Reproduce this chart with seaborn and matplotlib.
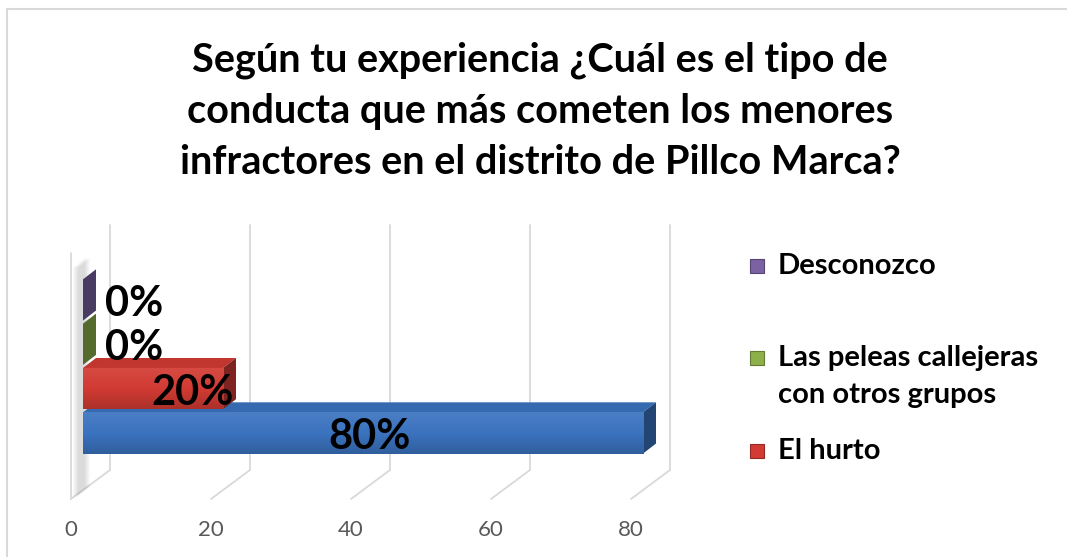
import numpy as np
import pandas as pd
import matplotlib
matplotlib.use("Agg")
import matplotlib.pyplot as plt
import matplotlib.colors as mcolors
import seaborn as sns
from matplotlib.patches import Polygon, Rectangle
from matplotlib.lines import Line2D
from matplotlib.transforms import IdentityTransform, ScaledTranslation

# Datos (de arriba hacia abajo, como en el grafico)
conductas = ["Desconozco", "Las peleas callejeras con otros grupos", "El hurto", "Otra conducta"]
porcentajes = [0, 0, 20, 80]
etiquetas = ["0%", "0%", "20%", "80%"]
colores = ["#7B62A3", "#8DB04B", "#D23B33", "#3B73BF"]
leyenda = ["Desconozco", "Las peleas callejeras\ncon otros grupos", "El hurto"]
titulo = [
    "Según tu experiencia ¿Cuál es el tipo de",
    "conducta que más cometen los menores",
    "infractores en el distrito de Pillco Marca?",
]
ticks_x = [0, 20, 40, 60, 80]

W, H, DPI = 1067, 557, 100
GRID = "#D9D9D9"

sns.set_style("white")
plt.rcParams["font.family"] = ["Lato", "DejaVu Sans"]


def shade(color, f):
    r, g, b = mcolors.to_rgb(color)
    return (r * f, g * f, b * f)


def tint(color, f):
    r, g, b = mcolors.to_rgb(color)
    return (r + (1 - r) * f, g + (1 - g) * f, b + (1 - b) * f)


fig = plt.figure(figsize=(W / DPI, H / DPI), dpi=DPI)
# area de trazado: frente del piso en y=499 px, x=0 en 71 px, 7 px por unidad
ax = fig.add_axes([71 / W, (H - 499) / H, 595 / W, 274 / H])
ax.patch.set_alpha(0)

df = pd.DataFrame({"conducta": conductas, "porcentaje": porcentajes})
sns.barplot(data=df, x="porcentaje", y="conducta", hue="conducta", palette=colores,
            orient="h", width=0.93, saturation=1, legend=False, ax=ax)
barras = list(ax.patches)

ax.set_xlim(0, 85)
ax.set_ylim(4.49, -1.69)
ax.set_xlabel("")
ax.set_ylabel("")
ax.set_yticks([])
ax.set_xticks(ticks_x)
ax.tick_params(axis="x", length=0, pad=15, labelsize=16, labelcolor="#595959")
for s in ax.spines.values():
    s.set_visible(False)

ident = IdentityTransform()

# paredes y piso en perspectiva
DEPTH = np.array([39, 29])
y_top = H - 225
for v in ticks_x:
    front = ax.transData.transform((v, 4.49))
    back = front + DEPTH
    ax.add_line(Line2D([front[0], back[0]], [front[1], back[1]], color=GRID, lw=1.3,
                       transform=ident, clip_on=False, zorder=1))
    ax.add_line(Line2D([back[0], back[0]], [back[1], y_top], color=GRID, lw=1.3,
                       transform=ident, clip_on=False, zorder=1))
f0 = ax.transData.transform((0, 4.49))
ax.add_line(Line2D([f0[0], f0[0]], [f0[1], H - 253], color=GRID, lw=1.3,
                   transform=ident, clip_on=False, zorder=1))

# sombra suave junto a la pared izquierda
for k in range(6):
    ax.add_patch(Polygon([(f0[0] + 2 + k, 60), (f0[0] + 2 + k, H - 268),
                          (f0[0] + 14 + k, H - 258), (f0[0] + 14 + k, 70)],
                         closed=True, facecolor="#000000", alpha=0.025, edgecolor="none",
                         transform=ident, clip_on=False, zorder=2))

# barras en 3D: se desplaza el frente y se agregan cara superior y lateral
BAR_DX, BAR_DY = 13, 10
shift = ScaledTranslation(12 / DPI, 0, fig.dpi_scale_trans)
grad = np.linspace(0, 1, 64).reshape(-1, 1)
for patch in barras:
    idx = int(round(patch.get_y() + patch.get_height() / 2))
    base = colores[idx]
    z = 10 - idx
    patch.set_transform(ax.transData + shift)
    patch.set_edgecolor("none")
    patch.set_zorder(z)
    (x0, y0), (x1, y1) = (ax.transData + shift).transform(
        [(patch.get_x(), patch.get_y()),
         (patch.get_x() + patch.get_width(), patch.get_y() + patch.get_height())])
    L, R = min(x0, x1), max(x0, x1)
    B, T = min(y0, y1), max(y0, y1)
    if R - L > 1:
        cmap = mcolors.LinearSegmentedColormap.from_list(
            "g", [tint(base, 0.08), base, shade(base, 0.82)])
        im = ax.imshow(grad, cmap=cmap, aspect="auto", extent=(L, R, B, T),
                       transform=ident, zorder=z + 0.1, interpolation="bilinear")
        im.set_clip_path(patch)
    top = [(L, T), (R, T), (R + BAR_DX, T + BAR_DY), (L + BAR_DX, T + BAR_DY)]
    side = [(R, B), (R, T), (R + BAR_DX, T + BAR_DY), (R + BAR_DX, B + BAR_DY)]
    ax.add_patch(Polygon(top, closed=True, facecolor=shade(base, 0.92), edgecolor="none",
                         transform=ident, clip_on=False, zorder=z))
    ax.add_patch(Polygon(side, closed=True, facecolor=shade(base, 0.6), edgecolor="none",
                         transform=ident, clip_on=False, zorder=z))

ax.set_xlim(0, 85)
ax.set_ylim(4.49, -1.69)

# etiquetas de datos
lbl_shift = ax.transData + ScaledTranslation(0, -4 / DPI, fig.dpi_scale_trans)
for i, (v, t) in enumerate(zip(porcentajes, etiquetas)):
    ax.text(9 + 0.42 * v, i, t, transform=lbl_shift, ha="center", va="center",
            fontsize=30, fontweight="bold", color="black", zorder=30, clip_on=False)

# titulo
for k, linea in enumerate(titulo):
    fig.text(540 / W, 1 - (60 + 51.5 * k) / H, linea, ha="center", va="center",
             fontsize=28.5, fontweight="bold", color="black")

# leyenda (la cuarta entrada queda fuera del area visible)
fila_y = [266, 358, 451]
for lab, col, yy in zip(leyenda, colores, fila_y):
    fig.add_artist(Rectangle((750 / W, 1 - (yy + 7) / H), 14 / W, 14 / H,
                             transform=fig.transFigure, facecolor=col,
                             edgecolor=shade(col, 0.7), lw=0.8))
    for j, parte in enumerate(lab.split("\n")):
        fig.text(778 / W, 1 - (yy + 37 * j) / H, parte, ha="left", va="center",
                 fontsize=21, fontweight="bold", color="black")

# borde del grafico
fig.add_artist(Rectangle((7 / W, -0.1), 1.2, (H - 9) / H + 0.1, transform=fig.transFigure,
                         fill=False, edgecolor=GRID, lw=1.5))

fig.savefig("out.png", dpi=DPI)
